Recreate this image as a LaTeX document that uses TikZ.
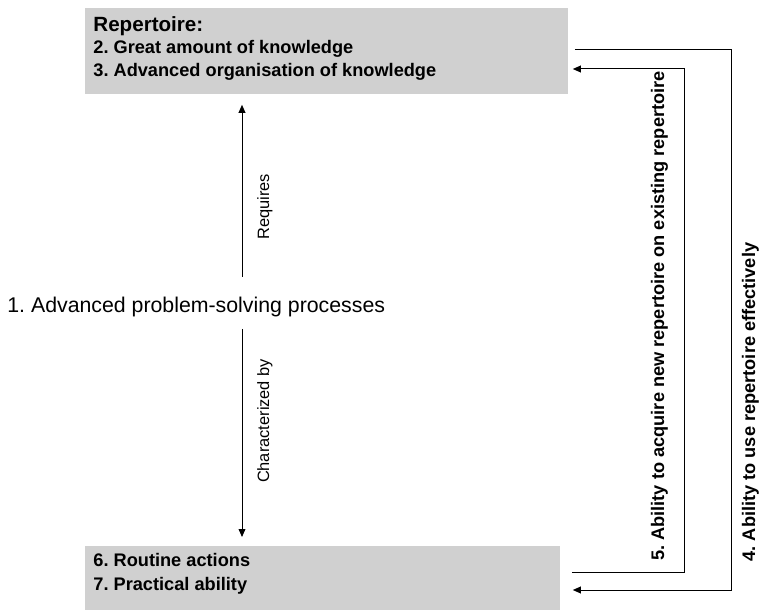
\documentclass[tikz,border=0pt]{standalone}
\usepackage{fontspec}
\setmainfont{Liberation Sans}
\usetikzlibrary{arrows.meta}
\definecolor{boxgray}{RGB}{208,208,208}
\frenchspacing
\begin{document}
\begin{tikzpicture}[x=0.5pt,y=-0.5pt,
    box/.style={fill=boxgray, draw=none, anchor=north west, inner sep=0pt},
    boxtext/.style={anchor=base west, inner sep=0pt, font=\fontsize{9.1}{11}\selectfont\bfseries},
    sidetext/.style={anchor=base, inner sep=0pt, rotate=90, font=\fontsize{8.2}{10}\selectfont},
    looptext/.style={anchor=base, inner sep=0pt, rotate=90, font=\fontsize{9.1}{11}\selectfont\bfseries},
    link/.style={line width=0.5pt, -{Triangle[length=4pt,width=3.4pt]}}]
    \useasboundingbox (0,0) rectangle (762,610);

    % Repertoire box
    \node[box, minimum width=241.5pt, minimum height=43pt] (repertoire) at (85,8) {};
    \node[boxtext, font=\fontsize{10.3}{12}\selectfont\bfseries] (rep0) at (93,32) {Repertoire:};
    \node[boxtext] (rep2) at (93,54) {2. Great amount of knowledge};
    \node[boxtext] (rep3) at (93,77) {3. Advanced organisation of knowledge};

    % Routine box
    \node[box, minimum width=237.5pt, minimum height=32pt] (routine) at (85,546) {};
    \node[boxtext] (rout6) at (93,567) {6. Routine actions};
    \node[boxtext] (rout7) at (93,590) {7. Practical ability};

    % Problem-solving processes
    \node[anchor=base west, inner sep=0pt, font=\fontsize{10.65}{13}\selectfont] (processes) at (7,313)
        {1. Advanced problem-solving processes};

    % Requires / Characterized by
    \coordinate (req) at (242,277);
    \coordinate (char) at (242,329);
    \draw[link] (req) -- ([yshift=-5pt]req |- repertoire.south);
    \draw[link] (char) -- ([yshift=4.5pt]char |- routine.north);
    \node[sidetext] (requires) at (269,207) {Requires};
    \node[sidetext] (characterized) at (269,421) {Characterized by};

    % Loop 5: acquire new repertoire
    \coordinate (in1) at (684,572);
    \coordinate (in2) at (684,69);
    \draw[link] ([xshift=5.5pt]routine.east |- in1) -- (in1) -- (in2)
        -- ([xshift=2pt]repertoire.east |- in2);
    \node[looptext] (acquire) at (664,316)
        {5. Ability to acquire new repertoire on existing repertoire};

    % Loop 4: use repertoire
    \coordinate (out1) at (731,50);
    \coordinate (out2) at (731,590);
    \draw[link] ([xshift=3pt]repertoire.east |- out1) -- (out1) -- (out2)
        -- ([xshift=6pt]routine.east |- out2);
    \node[looptext] (use) at (755,402) {4. Ability to use repertoire effectively};
\end{tikzpicture}
\end{document}
